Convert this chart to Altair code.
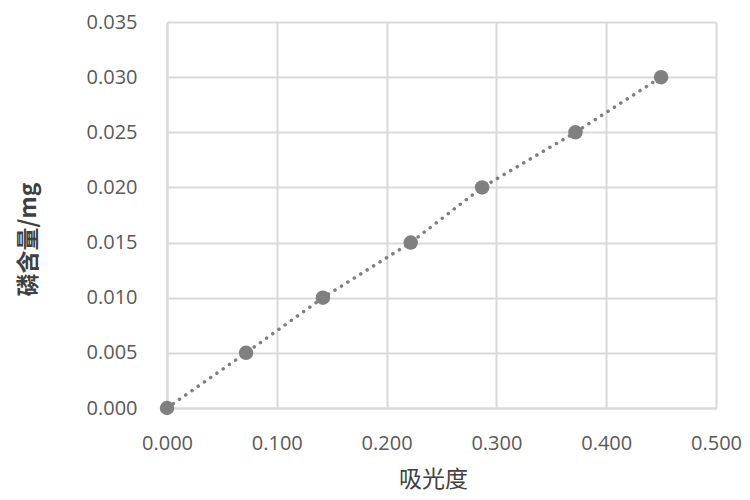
import altair as alt
import pandas as pd

absorbance = [0.000, 0.072, 0.142, 0.222, 0.287, 0.372, 0.450]
phosphorus_mg = [0.000, 0.005, 0.010, 0.015, 0.020, 0.025, 0.030]
x_ticks = [0.0, 0.1, 0.2, 0.3, 0.4, 0.5]
y_ticks = [0.0, 0.005, 0.010, 0.015, 0.020, 0.025, 0.030, 0.035]

df = pd.DataFrame({"x": absorbance, "y": phosphorus_mg})

grid = "#d9d9d9"
label_font = "Open Sans"
title_font = "Noto Sans CJK SC"

x_enc = alt.X(
    "x:Q",
    scale=alt.Scale(domain=[0, 0.5], nice=False, zero=True),
    axis=alt.Axis(
        values=x_ticks, format=".3f", title="吸光度",
        titleFont=title_font, titleFontSize=23, titleFontWeight="normal",
        titleColor="#404040", titleX=266, titleY=71, titleBaseline="middle",
        titleAlign="center",
        labelFont=label_font, labelFontSize=20, labelColor="#595959",
        labelPadding=25, ticks=False, domainColor=grid, domainWidth=2,
        gridColor=grid, gridWidth=2, labelFlush=False,
    ),
)
y_enc = alt.Y(
    "y:Q",
    scale=alt.Scale(domain=[0, 0.035], nice=False, zero=True),
    axis=alt.Axis(
        values=y_ticks, format=".3f", title="磷含量/mg",
        titleFont=title_font, titleFontSize=23, titleFontWeight="bold",
        titleColor="#404040", titleX=-139, titleY=217, titleBaseline="middle",
        titleAlign="center", titleAngle=270,
        labelFont=label_font, labelFontSize=20, labelColor="#595959",
        labelPadding=30, ticks=False, domainColor=grid, domainWidth=2,
        gridColor=grid, gridWidth=2, labelFlush=False,
    ),
)

line = alt.Chart(df).mark_line(
    color="#7f7f7f", strokeWidth=3.5, strokeCap="round", strokeDash=[0.1, 7.5]
).encode(x=x_enc, y=y_enc)

pts = alt.Chart(df).mark_circle(size=210, color="#808080", opacity=1).encode(
    x="x:Q", y="y:Q"
)

chart = (
    alt.layer(line, pts)
    .properties(
        width=549, height=386,
        autosize=alt.AutoSizeParams(type="none"),
        padding={"left": 159, "top": 14, "right": 26, "bottom": 84},
        background="white",
    )
    .configure_view(stroke=None)
)

chart.save("out.html", embed_options={"renderer": "svg", "actions": False})
